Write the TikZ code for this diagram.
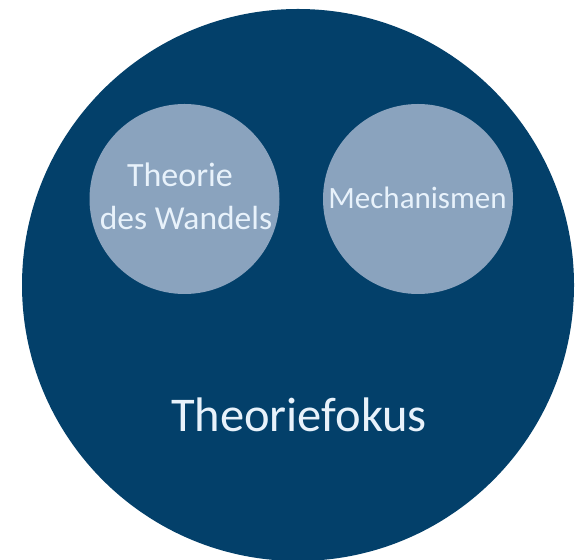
\documentclass[tikz,border=0pt]{standalone}
\usepackage{fontspec}
\setmainfont{Carlito}
\definecolor{darkblue}{HTML}{03406A}
\definecolor{lightblue}{HTML}{8AA3BE}
\definecolor{txtlight}{HTML}{E8F2FB}
\begin{document}
\begin{tikzpicture}[x=1pt,y=1pt,
  bigcirc/.style={circle,fill=darkblue,minimum size=552pt,inner sep=0pt},
  smallcirc/.style={circle,fill=lightblue,minimum size=190pt,inner sep=0pt},
  smalltxt/.style={anchor=base,text=txtlight,inner sep=0pt},
  bigtxt/.style={anchor=base,text=txtlight,font=\fontsize{48.5}{56}\selectfont,inner sep=0pt}]
\useasboundingbox (0,0) rectangle (577,559);
\node[bigcirc] (outer) at (298,274) {};
\node[smallcirc] (left) at (184.5,360) {};
\node[smallcirc] (right) at (418,360) {};
\node[smalltxt,font=\fontsize{34}{40}\selectfont] (t1) at (180,372) {Theorie};
\node[smalltxt,font=\fontsize{33.5}{40}\selectfont] (t2) at (186,329) {des Wandels};
\node[smalltxt,font=\fontsize{31}{38}\selectfont] (t3) at (417.5,350) {Mechanismen};
\node[bigtxt] (t4) at (299,128) {Theoriefokus};
\end{tikzpicture}
\end{document}
